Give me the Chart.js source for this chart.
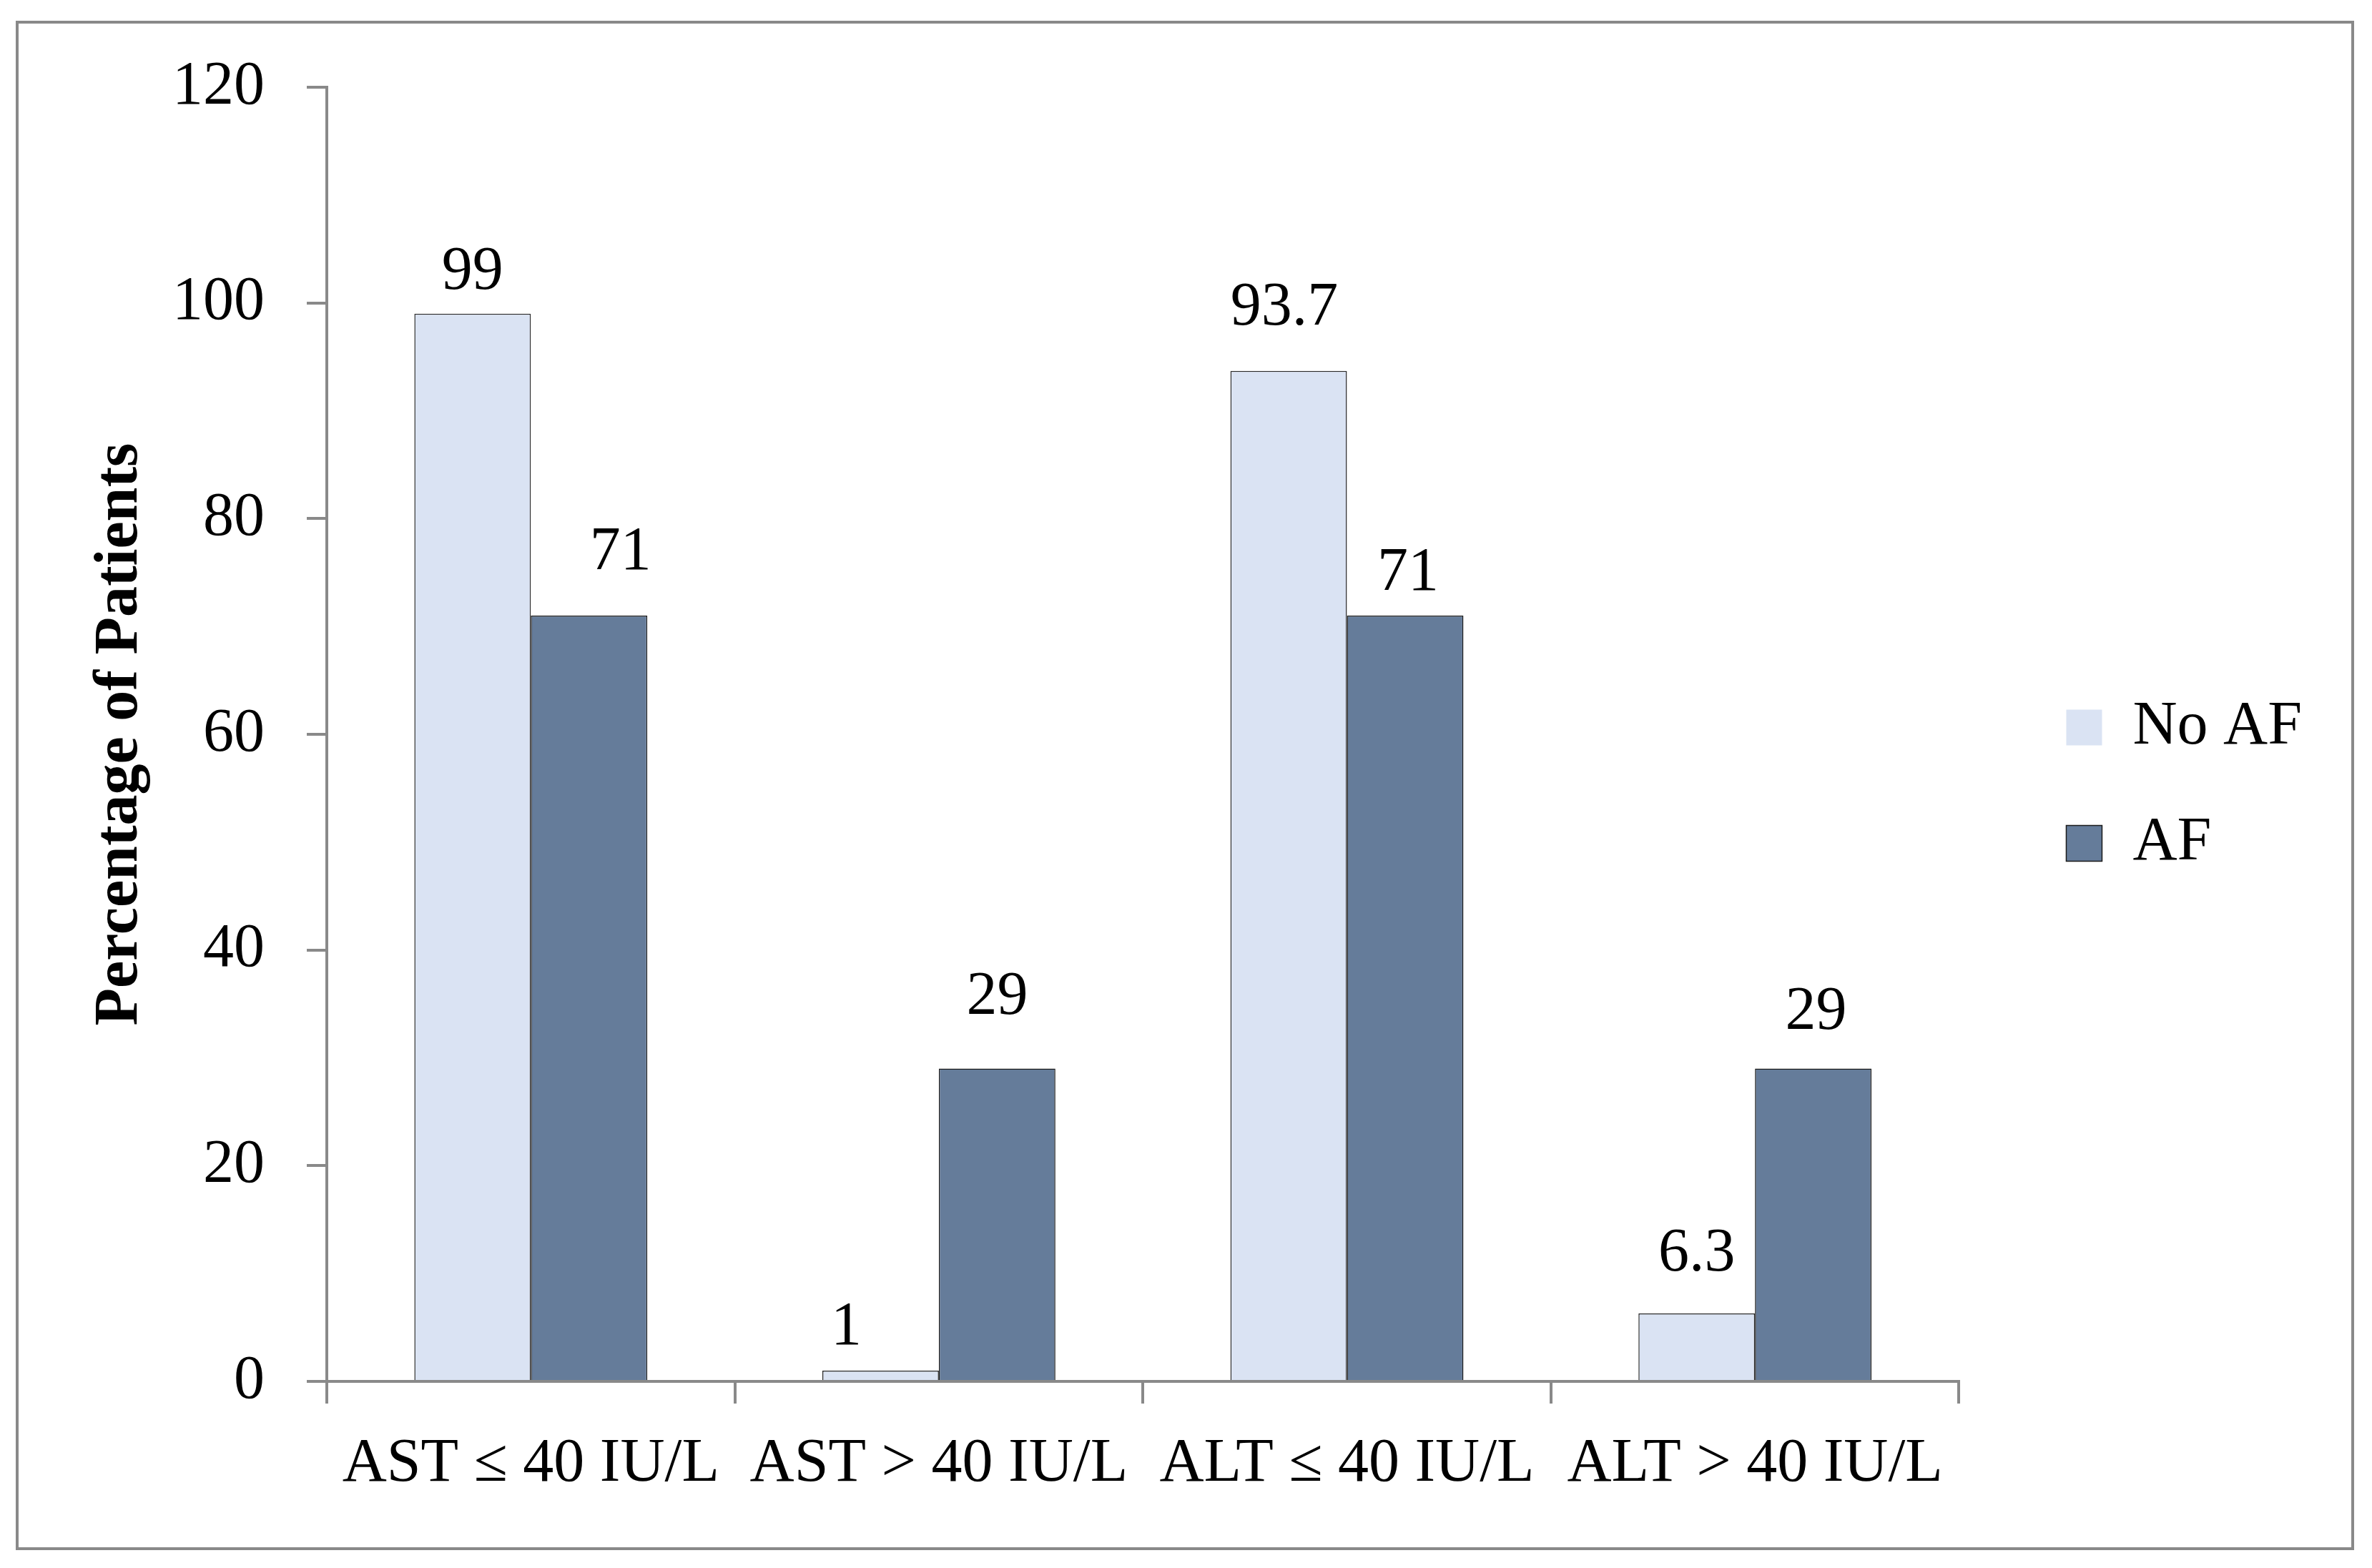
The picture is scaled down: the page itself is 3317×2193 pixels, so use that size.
<!DOCTYPE html>
<html>
<head>
<meta charset="utf-8">
<script src="https://cdn.jsdelivr.net/npm/chart.js@4"></script>
<style>
  html, body { margin: 0; padding: 0; background: #fff; overflow: hidden; }
  #frame {
    position: absolute; left: 22px; top: 29px;
    width: 3262px; height: 2131px;
    border: 4px solid #898989;
  }
  #frame canvas { display: block; }
</style>
</head>
<body>
<div id="frame"><canvas id="liverChart"></canvas></div>
<script>
// data
const categories = ["AST \u2264 40 IU/L", "AST > 40 IU/L", "ALT \u2264 40 IU/L", "ALT > 40 IU/L"];
const noAF = [99, 1, 93.7, 6.3];
const af = [71, 29, 71, 29];
const yTicks = [0, 20, 40, 60, 80, 100, 120];

// hand-placed value labels in the original (pixels)
const noAFLabelShift = [0, -48, -6, 0];
const noAFLabelGap = [35, 37, 65, 60];
const afLabelShift = [44, 0, 4, 4];
const afLabelGap = [65, 77, 36, 56];

const FONT = "'Liberation Serif', 'Times New Roman', serif";
const AXIS = "#898989";

const valueLabels = {
    id: "valueLabels",
    afterDatasetsDraw(chart) {
        const ctx = chart.ctx;
        ctx.save();
        ctx.font = "86px " + FONT;
        ctx.fillStyle = "#000";
        ctx.textAlign = "center";
        ctx.textBaseline = "alphabetic";
        chart.data.datasets.forEach((ds, i) => {
            const shift = i === 0 ? noAFLabelShift : afLabelShift;
            const gap = i === 0 ? noAFLabelGap : afLabelGap;
            chart.getDatasetMeta(i).data.forEach((bar, j) => {
                ctx.fillText(String(ds.data[j]), bar.x + shift[j], bar.y - gap[j]);
            });
        });
        ctx.restore();
    }
};

new Chart(document.getElementById("liverChart"), {
    type: "bar",
    data: {
        labels: categories,
        datasets: [{
            label: "No AF",
            data: noAF,
            backgroundColor: "#DAE3F3",
            borderColor: "#2a2a2a",
            borderWidth: 1.5,
            categoryPercentage: 0.571,
            barPercentage: 1
        }, {
            label: "AF",
            data: af,
            backgroundColor: "#657C9A",
            borderColor: "#1a1a1a",
            borderWidth: 1.5,
            categoryPercentage: 0.571,
            barPercentage: 1
        }]
    },
    options: {
        responsive: true,
        maintainAspectRatio: false,
        animation: false,
        layout: { padding: { top: 0, left: 0, right: 59, bottom: 0 } },
        plugins: {
            tooltip: { enabled: false },
            legend: {
                position: "right",
                labels: {
                    font: { family: FONT, size: 86 },
                    color: "#000",
                    boxWidth: 50,
                    boxHeight: 50,
                    padding: 76,
                    generateLabels(chart) {
                        const items = Chart.defaults.plugins.legend.labels.generateLabels(chart);
                        items[0].lineWidth = 0;
                        return items;
                    }
                }
            }
        },
        scales: {
            x: {
                grid: {
                    display: true,
                    drawOnChartArea: false,
                    drawTicks: true,
                    tickLength: 31,
                    offset: true,
                    color: AXIS,
                    lineWidth: 4
                },
                border: { display: true, color: AXIS, width: 4 },
                ticks: {
                    font: { family: FONT, size: 86, lineHeight: 1.2 },
                    color: "#000",
                    padding: 34,
                    maxRotation: 0,
                    autoSkip: false
                },
                afterFit(scale) { scale.height = 232; }
            },
            y: {
                min: 0,
                max: 120,
                afterBuildTicks(scale) { scale.ticks = yTicks.map(v => ({ value: v })); },
                grid: {
                    display: true,
                    drawOnChartArea: false,
                    drawTicks: true,
                    tickLength: 28,
                    color: AXIS,
                    lineWidth: 4
                },
                border: { display: true, color: AXIS, width: 4 },
                ticks: {
                    font: { family: FONT, size: 86 },
                    color: "#000",
                    padding: 59
                },
                title: {
                    display: true,
                    text: "Percentage of Patients",
                    font: { family: FONT, size: 86, weight: "bold", lineHeight: 1 },
                    color: "#000",
                    padding: { top: 100, bottom: 0 }
                },
                afterFit(scale) {
                    scale.width = 431;
                    scale.paddingTop = 89;
                }
            },
            // empty spacer between plot and legend
            spacer: {
                type: "linear",
                position: "right",
                display: true,
                grid: { display: false },
                border: { display: false },
                ticks: { display: false },
                afterFit(scale) { scale.width = 74; }
            }
        }
    },
    plugins: [valueLabels]
});
</script>
</body>
</html>
